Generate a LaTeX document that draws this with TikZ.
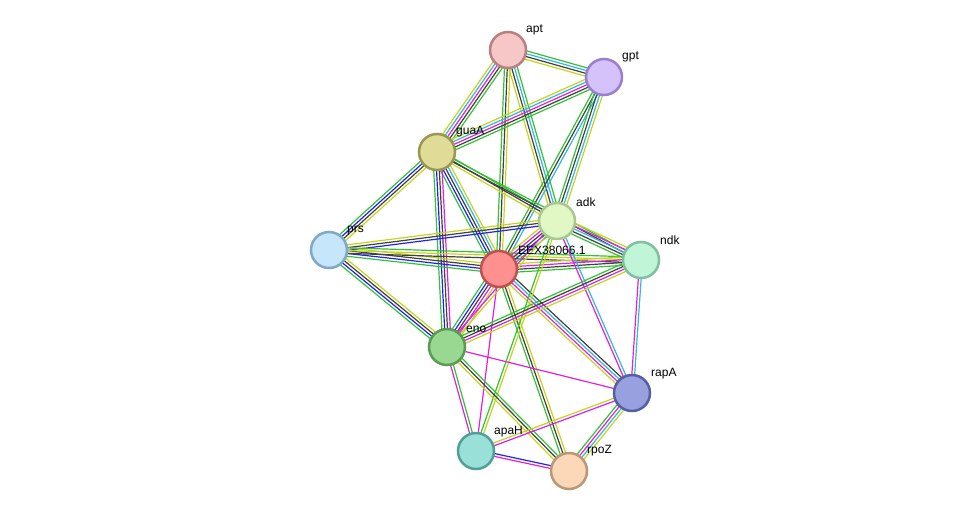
\documentclass[tikz,border=0pt]{standalone}
\usepackage{fontspec}
\setmainfont{Liberation Sans}
\usetikzlibrary{calc}
\definecolor{G}{HTML}{33C233}
\definecolor{K}{HTML}{404040}
\definecolor{C}{HTML}{30B8E0}
\definecolor{Y}{HTML}{C4D41E}
\definecolor{M}{HTML}{E020E0}
\definecolor{B}{HTML}{2222F0}
\newcommand{\edgeln}[4]{%
  \foreach \c [count=\i] in {#4}{%
    \pgfmathsetmacro\off{(\i-1-(#3-1)/2)*2.8}%
    \draw[\c,line width=1.2pt] ($(#1)!\off pt!90:(#2)$) -- ($(#2)!\off pt!-90:(#1)$);
  }}
\tikzset{prot/.style={circle,minimum size=36pt,inner sep=0pt,line width=2.5pt},
  lab/.style={font=\fontsize{12}{14}\selectfont,anchor=south west,inner sep=1pt}}
\begin{document}
\begin{tikzpicture}[x=1pt,y=-1pt]
\useasboundingbox (0,0) rectangle (975,517);
\coordinate (apt) at (508,50);
\coordinate (gpt) at (604,77);
\coordinate (guaA) at (437,152);
\coordinate (adk) at (557,221);
\coordinate (prs) at (329,250);
\coordinate (eex) at (499,269);
\coordinate (ndk) at (641,260);
\coordinate (eno) at (447,347);
\coordinate (rapA) at (632,393);
\coordinate (apaH) at (476,451);
\coordinate (rpoZ) at (569,471);
\edgeln{apt}{gpt}{4}{Y,K,C,G}
\edgeln{apt}{guaA}{5}{Y,C,M,K,G}
\edgeln{apt}{eex}{3}{G,K,Y}
\edgeln{apt}{adk}{4}{Y,K,C,G}
\edgeln{gpt}{guaA}{5}{Y,C,M,K,G}
\edgeln{gpt}{eex}{3}{G,K,C}
\edgeln{gpt}{adk}{4}{G,K,C,Y}
\edgeln{guaA}{prs}{4}{G,B,K,Y}
\edgeln{guaA}{eex}{5}{G,B,K,C,Y}
\edgeln{guaA}{adk}{3}{Y,K,G}
\edgeln{guaA}{ndk}{2}{K,G}
\edgeln{guaA}{eno}{4}{G,B,K,M}
\edgeln{prs}{adk}{3}{B,K,Y}
\edgeln{prs}{eex}{4}{G,B,K,Y}
\edgeln{prs}{ndk}{3}{K,Y,G}
\edgeln{prs}{eno}{4}{G,B,K,Y}
\edgeln{eex}{adk}{5}{G,B,K,M,Y}
\edgeln{eex}{ndk}{4}{G,K,M,Y}
\edgeln{adk}{ndk}{5}{G,K,C,M,Y}
\edgeln{eex}{eno}{5}{G,B,K,M,Y}
\edgeln{eex}{rapA}{4}{Y,M,C,K}
\edgeln{eex}{rpoZ}{3}{G,K,Y}
\edgeln{eex}{apaH}{1}{M}
\edgeln{adk}{eno}{2}{M,Y}
\edgeln{adk}{apaH}{2}{G,Y}
\edgeln{adk}{rapA}{2}{M,C}
\edgeln{ndk}{eno}{4}{G,K,M,Y}
\edgeln{ndk}{rapA}{2}{M,C}
\edgeln{eno}{rapA}{1}{M}
\edgeln{eno}{apaH}{2}{M,G}
\edgeln{eno}{rpoZ}{3}{Y,K,G}
\edgeln{rapA}{apaH}{2}{Y,M}
\edgeln{rapA}{rpoZ}{4}{G,M,C,Y}
\edgeln{apaH}{rpoZ}{2}{M,B}
\node[prot,fill={rgb,255:red,247;green,198;blue,198},draw={rgb,255:red,184;green,128;blue,128}] (n1) at (apt) {};
\node[prot,fill={rgb,255:red,213;green,194;blue,251},draw={rgb,255:red,154;green,127;blue,208}] (n2) at (gpt) {};
\node[prot,fill={rgb,255:red,224;green,220;blue,152},draw={rgb,255:red,154;green,152;blue,80}] (n3) at (guaA) {};
\node[prot,fill={rgb,255:red,226;green,248;blue,196},draw={rgb,255:red,168;green,200;blue,144}] (n4) at (adk) {};
\node[prot,fill={rgb,255:red,197;green,230;blue,251},draw={rgb,255:red,128;green,168;blue,200}] (n5) at (prs) {};
\node[prot,fill={rgb,255:red,255;green,144;blue,144},draw={rgb,255:red,192;green,80;blue,80}] (n6) at (eex) {};
\node[prot,fill={rgb,255:red,192;green,245;blue,216},draw={rgb,255:red,128;green,192;blue,160}] (n7) at (ndk) {};
\node[prot,fill={rgb,255:red,152;green,216;blue,144},draw={rgb,255:red,90;green,154;blue,85}] (n8) at (eno) {};
\node[prot,fill={rgb,255:red,152;green,160;blue,224},draw={rgb,255:red,85;green,96;blue,160}] (n9) at (rapA) {};
\node[prot,fill={rgb,255:red,152;green,224;blue,216},draw={rgb,255:red,80;green,160;blue,152}] (n10) at (apaH) {};
\node[prot,fill={rgb,255:red,252;green,216;blue,184},draw={rgb,255:red,184;green,152;blue,120}] (n11) at (rpoZ) {};
\node[lab] at (525,36) {apt};
\node[lab] at (621,63) {gpt};
\node[lab] at (455,138) {guaA};
\node[lab] at (575,208) {adk};
\node[lab] at (346,236) {prs};
\node[lab] at (517,256) {EEX38066.1};
\node[lab] at (659,246) {ndk};
\node[lab] at (465,334) {eno};
\node[lab] at (650,380) {rapA};
\node[lab] at (493,438) {apaH};
\node[lab] at (586,457) {rpoZ};
\end{tikzpicture}
\end{document}
